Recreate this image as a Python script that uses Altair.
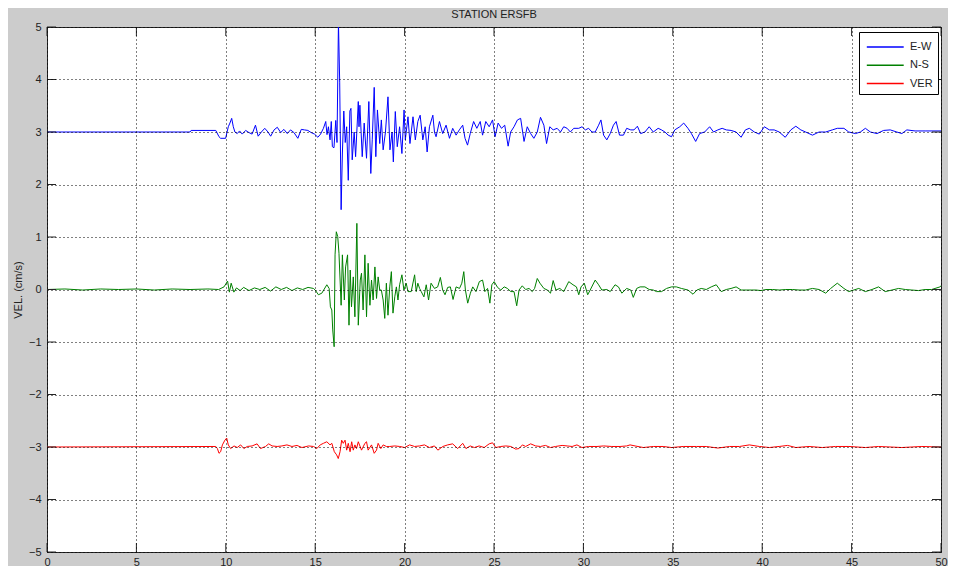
import altair as alt
import pandas as pd

# ---------------- data ----------------
COMPONENTS = ["E-W", "N-S", "VER"]
OFFSETS = [3, 0, -3]
COLORS = ["#0000ff", "#008000", "#ff0000"]

EW_T = [0, 8.0, 8.06, 9.44, 9.62, 9.71, 9.99, 10.14, 10.23, 10.33, 10.42, 10.51, 10.64, 10.77, 10.92,
        11.11, 11.29, 11.47, 11.66, 11.81, 11.99, 12.18, 12.36, 12.51, 12.70, 12.88, 13.07, 13.25,
        13.44, 13.62, 13.81, 14.03, 14.22, 14.40, 14.59, 14.77, 14.96, 15.15, 15.30, 15.46, 15.59,
        15.66, 15.74, 15.83, 15.90, 15.96, 16.05, 16.15, 16.22, 16.30, 16.37, 16.45, 16.52, 16.60,
        16.68, 16.76, 16.85, 16.94, 17.00, 17.07, 17.18, 17.26, 17.41, 17.45, 17.50, 17.63, 17.74,
        17.87, 18.00, 18.11, 18.19, 18.30, 18.39, 18.48, 18.61, 18.70, 18.80, 18.93, 19.07, 19.18,
        19.30, 19.37, 19.48, 19.59, 19.72, 19.85, 19.97, 20.04, 20.19, 20.30, 20.47, 20.60, 20.74,
        20.87, 21.02, 21.15, 21.26, 21.39, 21.58, 21.67,
        21.76, 21.95, 22.13, 22.32, 22.51, 22.69, 22.88, 23.06, 23.25, 23.38, 23.52, 23.67, 23.86,
        24.04, 24.23, 24.36, 24.54, 24.73, 24.92, 25.06, 25.23, 25.42, 25.60, 25.79, 25.93, 26.12,
        26.31, 26.49, 26.68, 26.86, 27.05, 27.23, 27.42, 27.60, 27.79, 27.94, 28.12, 28.31, 28.53,
        28.72, 28.90, 29.09, 29.27, 29.46, 29.74, 29.92, 30.11, 30.29, 30.48, 30.66, 30.85, 30.98,
        31.13, 31.31, 31.50, 31.68, 31.83, 32.02, 32.24, 32.42, 32.65, 32.83, 33.02, 33.20, 33.44,
        33.68, 33.91, 34.18, 34.37, 34.56, 34.74, 34.93, 35.11, 35.39, 35.61, 35.85, 36.04, 36.28,
        36.50, 36.78, 37.06, 37.28, 37.52, 37.76, 37.99, 38.26, 38.54, 38.82, 39.06, 39.28, 39.56,
        39.84, 40.12, 40.40, 40.67, 40.95, 41.29, 41.60, 41.88, 42.16, 42.43, 42.81, 43.18, 43.55,
        43.92, 44.20, 44.57, 44.84, 45.22, 45.49, 45.77, 46.05, 46.42, 46.79, 47.16, 47.53, 47.81,
        48.09, 48.55, 49.11, 50.0]
EW_V = [0, 0, 0.03, 0.03, -0.09, -0.12, -0.12, 0.10, 0.17, 0.26, 0.10, 0.0, -0.03, 0.02, -0.04,
        0.03, -0.01, -0.04, 0.13, -0.08, 0.0, 0.07, 0.0, -0.08, 0.04, 0.09, -0.01, 0.05,
        -0.03, 0.04, -0.01, -0.12, 0.05, 0.04, 0.03, -0.01, -0.04, -0.10, -0.04, 0.07, 0.20,
        -0.05, 0.10, -0.15, 0.20, -0.28, -0.30, 0.22, -0.20, 2.10, 0.95, -1.48, -0.40, 0.40,
        -0.20, 0.10, -0.92, 0.40, 0.45, -0.53, 0.00, -0.47, 0.58, 0.10, 0.51, -0.47, 0.17,
        -0.50, 0.58, -0.79, -0.15, 0.85, -0.47, 0.42, -0.22, 0.23, -0.34, 0.00, 0.67, -0.34,
        0.00, -0.57, 0.39, -0.28, 0.10, -0.41, 0.42, -0.15, 0.29, -0.22, 0.29, -0.15, 0.20,
        0.32, -0.15, 0.10, -0.38, 0.10, 0.32, 0.00,
        -0.09, 0.20, -0.03, 0.13, -0.12, 0.07, -0.06, 0.04, 0.13, -0.12, -0.25, -0.03, 0.20,
        0.07, 0.20, -0.06, 0.20, 0.10, 0.23, -0.09, 0.17, 0.07, 0.13, -0.27, 0.0, 0.10,
        0.23, 0.26, -0.18, 0.10, -0.03, -0.12, 0.0, 0.28, 0.13, -0.22, 0.10, 0.04, 0.07,
        0.0, 0.10, 0.07, 0.0, 0.07, 0.07, 0.10, 0.04, 0.07, 0.0, 0.0, 0.13, 0.23,
        -0.06, -0.15, -0.03, 0.13, 0.20, -0.06, -0.06, 0.07, 0.04, 0.04, 0.11, -0.03, 0.0,
        0.10, 0.0, 0.07, 0.04, 0.0, -0.06, -0.09, 0.04, 0.10, 0.17, 0.07, -0.03, -0.18,
        -0.03, 0.0, 0.10, 0.0, 0.04, 0.07, 0.04, 0.03, 0.0, -0.10, 0.04, 0.07, 0.0,
        -0.04, 0.10, 0.04, 0.04, 0.0, -0.10, 0.04, 0.11, 0.04, 0.0, -0.06, 0.0, 0.0,
        0.04, 0.07, 0.07, 0.0, -0.03, 0.0, 0.07, 0.0, -0.03, 0.03, 0.04, 0.0, -0.03,
        0.04, 0.02, 0.02, 0.02]

NS_T = [0, 1.0, 2.0, 3.0, 4.0, 5.0, 6.0, 7.0, 8.0, 9.0, 9.6, 9.9, 10.1, 10.2, 10.3, 10.45, 10.6,
        10.8, 11.0, 11.3, 11.6, 11.9, 12.2, 12.5, 12.8, 13.1, 13.4, 13.7, 14.0, 14.3, 14.6, 14.9,
        15.00, 15.18, 15.37, 15.65, 15.78, 15.85, 15.93, 15.98, 16.06, 16.11, 16.18, 16.26, 16.33,
        16.45, 16.52, 16.63, 16.70, 16.81, 16.89, 16.96, 17.03, 17.13, 17.22, 17.33, 17.41, 17.52,
        17.59, 17.68, 17.78, 17.87, 17.96, 18.06, 18.15, 18.24, 18.34, 18.43, 18.52, 18.61, 18.70,
        18.80, 18.89, 18.98, 19.07, 19.17, 19.26, 19.35, 19.45, 19.54, 19.63, 19.72, 19.85, 19.96,
        20.09, 20.19, 20.37, 20.56, 20.65, 20.74, 20.84, 20.93, 21.08, 21.21, 21.34, 21.48, 21.67,
        21.85, 22.00, 22.13, 22.26, 22.41, 22.56, 22.71, 22.88, 23.07, 23.20, 23.31, 23.40, 23.53,
        23.68, 23.81, 23.99, 24.18, 24.36, 24.49, 24.64, 24.77, 24.88, 25.01, 25.20, 25.38, 25.57,
        25.75, 25.94, 26.12, 26.27, 26.40, 26.58, 26.77, 26.96, 27.14, 27.27, 27.42, 27.57, 27.79,
        27.98, 28.16, 28.31, 28.46, 28.68, 28.90, 29.18, 29.42, 29.61, 29.74, 29.87, 30.05, 30.24,
        30.38, 30.66, 30.85, 31.03, 31.31, 31.50, 31.77, 31.96, 32.15, 32.42, 32.65, 32.79, 32.98,
        33.17, 33.44, 33.68, 33.91, 34.09, 34.37, 34.65, 34.93, 35.20, 35.48, 35.85, 36.13, 36.35,
        36.59, 36.87, 37.15, 37.43, 37.71, 37.99, 38.26, 38.54, 38.82, 39.10, 39.38, 39.65, 39.93,
        40.21, 40.58, 40.95, 41.32, 41.69, 42.06, 42.43, 42.81, 43.18, 43.55, 43.83, 44.20, 44.57,
        44.84, 45.12, 45.40, 45.77, 46.14, 46.51, 46.88, 47.26, 47.63, 48.00, 48.37, 48.74, 49.11,
        49.48, 49.94, 50.0]
NS_V = [0, 0.01, -0.01, 0.01, 0.0, 0.01, -0.01, 0.01, 0.0, 0.01, 0.0, 0.05, 0.16, -0.05, 0.12, -0.05, 0.03,
        -0.02, 0.04, -0.02, 0.03, 0.0, 0.04, -0.03, 0.05, 0.0, 0.04, -0.02, 0.03, 0.0, 0.04, 0.02,
        -0.01, -0.10, -0.07, 0.09, 0.02, -0.33, -0.39, -0.77, -1.09, 0.66, 1.10, 1.01, 0.69,
        -0.30, 0.66, -0.20, 0.43, 0.66, -0.68, 0.37, -0.33, 0.24, -0.52, 1.26, -0.68, 0.18,
        0.31, -0.39, 0.66, -0.52, 0.50, -0.30, 0.18, -0.20, 0.43, -0.17, 0.24, -0.01, -0.01,
        -0.20, -0.55, 0.12, -0.49, 0.05, 0.34, -0.45, -0.14, 0.05, -0.20, 0.09, 0.28, -0.01,
        0.12, -0.04, -0.04, 0.28, -0.04, 0.12, 0.02, -0.04, -0.14, 0.09, -0.20, 0.12, 0.02,
        0.05, 0.23, -0.01, -0.10, 0.04, 0.05, -0.19, 0.05, 0.02, 0.12, 0.34, -0.01, -0.26,
        -0.07, 0.05, -0.04, 0.15, 0.18, -0.04, 0.02, -0.26, 0.09, 0.15, 0.04, -0.01, 0.05,
        0.02, -0.04, -0.04, -0.31, -0.01, 0.07, 0.0, 0.02, -0.04, 0.02, 0.21, 0.12, 0.02,
        -0.01, -0.07, 0.17, -0.01, 0.02, -0.04, 0.15, 0.09, 0.05, -0.10, 0.05, 0.12, -0.10,
        -0.01, 0.18, 0.09, -0.01, 0.0, -0.04, 0.09, 0.05, -0.07, 0.02, -0.01, -0.15, 0.02,
        0.05, 0.05, 0.0, -0.01, -0.04, -0.04, 0.02, 0.05, 0.05, 0.02, -0.01, -0.09, -0.01,
        0.02, 0.0, 0.05, 0.09, -0.04, 0.0, 0.02, 0.05, -0.01, -0.01, -0.01, -0.01, -0.02,
        0.0, 0.0, -0.01, 0.0, 0.0, -0.01, -0.01, 0.02, 0.0, -0.07, 0.02, 0.12, 0.02,
        -0.04, -0.01, 0.02, -0.04, 0.0, 0.05, -0.04, -0.01, 0.02, 0.0, -0.01, -0.02, 0.0,
        0.0, 0.05, 0.07]

VER_T = [0, 9.44, 9.53, 9.62, 9.71, 9.81, 9.95, 10.05, 10.14, 10.27, 10.46, 10.64, 10.83, 11.01,
         11.20, 11.47, 11.75, 11.94, 12.22, 12.40, 12.59, 12.87, 13.14, 13.42, 13.70, 13.98, 14.26,
         14.63, 14.91, 15.09, 15.28, 15.46, 15.65, 15.83, 15.93, 16.07, 16.20, 16.29, 16.39, 16.48,
         16.57, 16.67, 16.76, 16.85, 16.95, 17.04, 17.13, 17.22, 17.31, 17.41, 17.59, 17.78, 17.87,
         17.96, 18.15, 18.30, 18.43, 18.52, 18.67, 18.80, 18.98, 19.17, 19.45, 19.73, 20.00, 20.28,
         20.56, 20.84, 21.11, 21.39, 21.67, 21.86, 22.14, 22.41, 22.69, 22.97, 23.25, 23.43, 23.67,
         23.90, 24.17, 24.45, 24.73, 24.92, 25.10, 25.38, 25.66, 25.94, 26.21, 26.40, 26.59, 26.77,
         27.05, 27.33, 27.60, 27.88, 28.16, 28.44, 28.81, 29.09, 29.37, 29.64, 29.92, 30.29, 30.76,
         31.13, 31.59, 32.05, 32.42, 32.61, 32.89, 33.35, 33.91, 34.46, 34.93, 35.58, 36.32, 36.87,
         37.52, 38.17, 38.73, 39.28, 39.84, 40.40, 40.95, 41.42, 41.88, 42.62, 43.36, 44.10, 44.85,
         45.77, 46.51, 47.81, 48.93, 50.0]
VER_V = [0, 0.01, -0.03, -0.12, -0.09, 0.04, 0.13, 0.17, 0.04, -0.03, 0.02, -0.01, 0.04, -0.03,
         0.01, 0.02, 0.06, -0.03, 0.01, 0.06, 0.02, 0.01, 0.02, 0.04, 0.01, 0.03, -0.01,
         0.02, 0.01, -0.03, 0.04, 0.07, 0.10, 0.04, 0.07, -0.09, -0.15, -0.22, -0.09, 0.13,
         0.07, 0.13, -0.06, 0.07, -0.09, 0.10, -0.06, 0.04, -0.03, 0.10, -0.06, 0.07, 0.10,
         -0.06, 0.04, -0.12, -0.06, 0.07, -0.03, 0.04, 0.01, 0.01, 0.02, 0.01, -0.01, 0.04,
         0.01, 0.02, 0.04, -0.01, 0.02, -0.06, 0.01, 0.04, 0.06, -0.03, 0.07, -0.03, 0.02,
         -0.01, 0.02, -0.01, 0.06, 0.08, -0.01, 0.01, 0.02, 0.01, -0.04, -0.03, 0.04, 0.01,
         0.06, 0.02, 0.01, 0.03, -0.01, 0.01, 0.03, 0.02, 0.01, 0.04, -0.01, 0.01, 0.01,
         0.02, 0.01, 0.01, 0.02, 0.04, 0.02, -0.01, 0.01, 0.01, -0.01, 0.01, 0.01, 0.01,
         -0.02, 0.01, 0.01, 0.04, 0.01, -0.01, 0.01, 0.03, -0.01, 0.01, -0.01, 0.01, 0.01,
         -0.01, 0.01, -0.01, 0.01, 0.0]

X_TICKS = [0, 5, 10, 15, 20, 25, 30, 35, 40, 45, 50]
Y_TICKS = [-5, -4, -3, -2, -1, 0, 1, 2, 3, 4, 5]

# ---------------- table ----------------
rows = []
for comp, off, ts, vs in zip(COMPONENTS, OFFSETS, [EW_T, NS_T, VER_T], [EW_V, NS_V, VER_V]):
    for t, v in zip(ts, vs):
        rows.append({"t": t, "vel": off + v, "comp": comp})
df = pd.DataFrame(rows)

W, H = 894, 525
TL = 9
FONT = "Liberation Sans"
FRAME = "#262626"
TXT = "#222222"

xs = alt.Scale(domain=[0, 50], nice=False, zero=False)
ys = alt.Scale(domain=[-5, 5], nice=False, zero=False)

X_AXIS = alt.Axis(
    values=X_TICKS, grid=True, ticks=False, tickSize=0, domain=False,
    labelPadding=4, labelFlush=False, labelFontSize=11, labelFont=FONT, labelColor=TXT,
    gridColor="#000000", gridDash=[1, 3], gridOpacity=1, gridWidth=1, zindex=1)
Y_AXIS = alt.Axis(
    values=Y_TICKS, grid=True, ticks=False, tickSize=0, domain=False,
    labelPadding=6, labelFontSize=11, labelFont=FONT, labelColor=TXT,
    titleFont=FONT, titleFontSize=11, titleFontWeight="normal", titleColor=TXT,
    titleAngle=270, titleX=-29, titleY=H / 2, titleAlign="center", titleBaseline="middle",
    gridColor="#000000", gridDash=[1, 3], gridOpacity=1, gridWidth=1, zindex=1)


def xenc():
    return alt.X("t:Q", scale=xs, axis=X_AXIS, title="")


def yenc():
    return alt.Y("vel:Q", scale=ys, axis=Y_AXIS, title="VEL. (cm/s)")


lines = alt.Chart(df).mark_line(strokeWidth=1, clip=True).encode(
    x=xenc(),
    y=yenc(),
    color=alt.Color("comp:N", scale=alt.Scale(domain=COMPONENTS, range=COLORS),
                    legend=alt.Legend(
                        title=None, orient="none", legendX=812, legendY=5,
                        strokeColor="#000000", fillColor="#ffffff", padding=5,
                        symbolType="M-0.8,0H3.3", symbolSize=324, symbolStrokeWidth=1.5,
                        symbolFillColor="transparent", labelOffset=26, rowPadding=3.3,
                        labelFont=FONT, labelFontSize=11, labelColor=TXT, zindex=2)),
)

xt = pd.DataFrame({"t": X_TICKS})
yt = pd.DataFrame({"vel": Y_TICKS})

tick_bottom = alt.Chart(xt).mark_rule(color=FRAME, strokeWidth=1).encode(
    x=xenc(), y=alt.value(H), y2=alt.value(H - TL))
tick_top = alt.Chart(xt).mark_rule(color=FRAME, strokeWidth=1).encode(
    x=xenc(), y=alt.value(0), y2=alt.value(TL))
tick_left = alt.Chart(yt).mark_rule(color=FRAME, strokeWidth=1).encode(
    y=yenc(), x=alt.value(0), x2=alt.value(TL))
tick_right = alt.Chart(yt).mark_rule(color=FRAME, strokeWidth=1).encode(
    y=yenc(), x=alt.value(W), x2=alt.value(W - TL))

chart = alt.layer(lines, tick_bottom, tick_top, tick_left, tick_right).properties(
    width=W, height=H,
    autosize="none",
    padding={"left": 39, "top": 19, "right": 7, "bottom": 14},
    title=alt.TitleParams("STATION ERSFB", font=FONT, fontSize=11, fontWeight="normal",
                          color=TXT, anchor="middle", frame="group", offset=1),
).configure(background="#cccccc").configure_view(stroke=FRAME, strokeWidth=1, fill="#ffffff")

chart.save("out.html", embed_options={"renderer": "svg", "actions": False})
